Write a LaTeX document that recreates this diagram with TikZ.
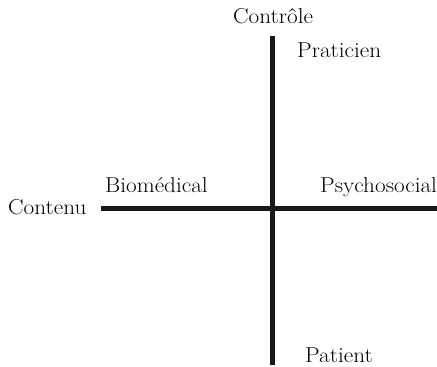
\documentclass[tikz,border=0pt]{standalone}
\newcommand{\widetext}[1]{\scalebox{1.08}[1]{#1}}
\begin{document}
\begin{tikzpicture}[x=1pt,y=-1pt,
  axis/.style={line width=4.5pt,black!90},
  lab/.style={anchor=base west,inner sep=0pt,font=\fontsize{21.5}{24}\selectfont}]
\useasboundingbox (0,0) rectangle (437,367);
\coordinate (vt) at (272.5,36);
\coordinate (vb) at (272.5,365);
\coordinate (hl) at (101,208.5);
\coordinate (hr) at (437,208.5);
\draw[axis] (vt) -- (vb);
\draw[axis] (hl) -- (hr);
\node[lab] (controle) at (233,23) {\widetext{Contrôle}};
\node[lab] (praticien) at (297,57) {\widetext{Praticien}};
\node[lab] (patient) at (305,362) {\widetext{Patient}};
\node[lab] (contenu) at (8,214) {\widetext{Contenu}};
\node[lab] (biomedical) at (105,192) {\widetext{Biomédical}};
\node[lab] (psychosocial) at (320,192) {\widetext{Psychosocial}};
\end{tikzpicture}
\end{document}
